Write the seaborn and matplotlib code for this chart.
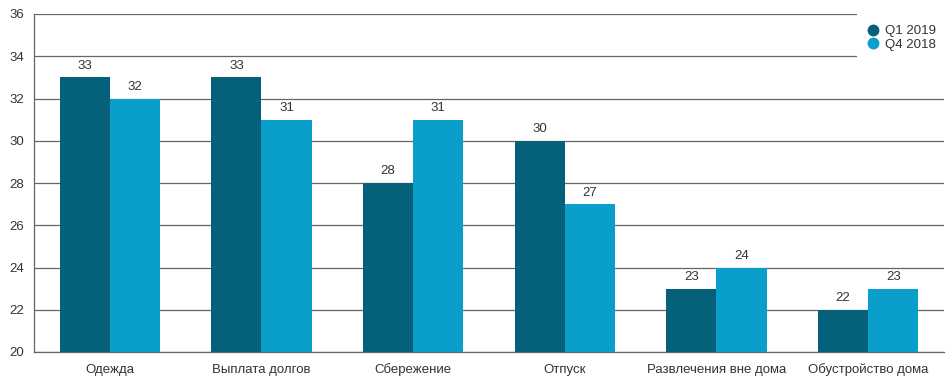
import matplotlib
matplotlib.use("Agg")
import matplotlib.pyplot as plt
import seaborn as sns
import pandas as pd
from matplotlib.lines import Line2D
from matplotlib.patches import Rectangle

categories = ["Одежда", "Выплата долгов", "Сбережение", "Отпуск",
              "Развлечения вне дома", "Обустройство дома"]
q1_2019 = [33, 33, 28, 30, 23, 22]
q4_2018 = [32, 31, 31, 27, 24, 23]
series = ["Q1 2019", "Q4 2018"]
colors = ["#05607a", "#099fca"]

df = pd.DataFrame({
    "cat": categories * 2,
    "val": q1_2019 + q4_2018,
    "series": [series[0]] * len(categories) + [series[1]] * len(categories),
})

sns.set_style("white")
plt.rcParams["font.family"] = ["Liberation Sans", "DejaVu Sans"]

W, H = 953, 384
fig = plt.figure(figsize=(W / 100, H / 100), dpi=100)
ax = fig.add_axes([34 / W, 1 - 352 / H, (944 - 34) / W, (352 - 14) / H])

sns.barplot(data=df, x="cat", y="val", hue="series", palette=colors,
            width=0.66, gap=0, saturation=1, ax=ax, legend=False,
            linewidth=0, edgecolor="none", zorder=3)

ax.set_ylim(20, 36)
ax.set_yticks(range(20, 37, 2))
ax.set_xlim(-0.5, len(categories) - 0.5)
ax.grid(axis="y", color="#666666", linewidth=0.9, zorder=0)
ax.set_axisbelow(True)
for s in ["top", "right"]:
    ax.spines[s].set_visible(False)
for s in ["left", "bottom"]:
    ax.spines[s].set_color("#666666")
    ax.spines[s].set_linewidth(0.9)
ax.tick_params(axis="y", length=4, color="#666666", labelsize=9.5, labelcolor="#333333", pad=3)
ax.tick_params(axis="x", length=0, labelsize=9.5, labelcolor="#333333", pad=15)
for lbl in ax.get_xticklabels():
    lbl.set_verticalalignment("baseline")
ax.set_xlabel("")
ax.set_ylabel("")

for cont in ax.containers:
    ax.bar_label(cont, fmt="%d", padding=4, fontsize=9.5, color="#333333")

# white box behind legend hiding gridlines
x0 = (857 - 34) / (944 - 34)
y0 = (352 - 60) / (352 - 14)
ax.add_patch(Rectangle((x0, y0), 1.02 - x0, 1.03 - y0, transform=ax.transAxes,
                       facecolor="white", edgecolor="none", zorder=1, clip_on=False))

handles = [Line2D([0], [0], marker="o", linestyle="", markersize=7.5,
                  markerfacecolor=c, markeredgecolor=c) for c in colors]
leg = fig.legend(handles, series, loc="upper left",
                 bbox_to_anchor=(865 / W, 1 - 25 / H), bbox_transform=fig.transFigure,
                 frameon=False, fontsize=9.5, handletextpad=0.35, labelspacing=0.12,
                 borderpad=0, handlelength=1.2, borderaxespad=0)
for t in leg.get_texts():
    t.set_color("#333333")

fig.savefig("out.png", dpi=100)
